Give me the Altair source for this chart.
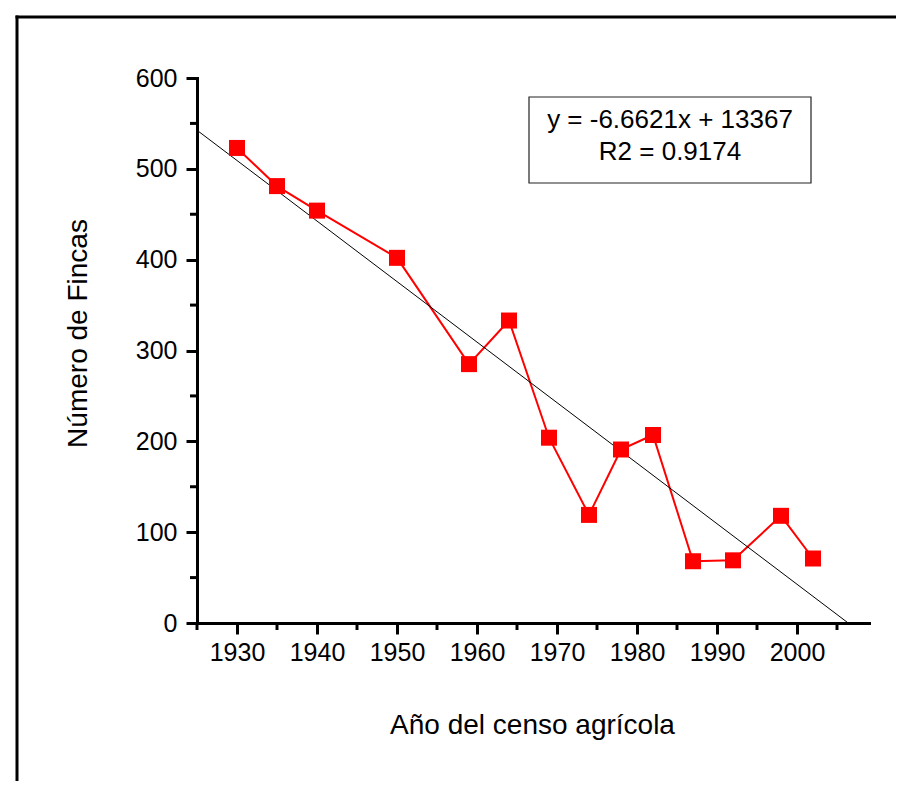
import altair as alt
import pandas as pd

# Data
years = [1930, 1935, 1940, 1950, 1959, 1964, 1969, 1974, 1978, 1982, 1987, 1992, 1998, 2002]
fincas = [523, 481, 454, 402, 285, 333, 204, 119, 191, 207, 68, 69, 118, 71]

# Trend line endpoints (y = -6.6621x + 13367, from 1925 to where it meets 0)
trend_years = [1925, 2006.4]
trend_vals = [542.5, 0]

major_x = [1930, 1940, 1950, 1960, 1970, 1980, 1990, 2000]
minor_x = [1925, 1935, 1945, 1955, 1965, 1975, 1985, 1995, 2005]
major_y = [0, 100, 200, 300, 400, 500, 600]
minor_y = [50, 150, 250, 350, 450, 550]

eq_line1 = "y = -6.6621x + 13367"
eq_line2 = "R2 = 0.9174"

FONT = "Liberation Sans"
W, H = 672, 545

df = pd.DataFrame({"year": years, "val": fincas})
trend = pd.DataFrame({"year": trend_years, "val": trend_vals})
mx = pd.DataFrame({"year": minor_x})
my = pd.DataFrame({"val": minor_y})
one = pd.DataFrame({"a": [0]})
t1 = pd.DataFrame({"t": [eq_line1]})
t2 = pd.DataFrame({"t": [eq_line2]})

xs = alt.Scale(domain=[1925, 2009], nice=False, zero=False)
ys = alt.Scale(domain=[0, 600], nice=False)

x_axis = alt.Axis(
    values=major_x, format="d", grid=False, title="Año del censo agrícola",
    tickSize=11, tickWidth=3, tickColor="black", domainWidth=3, domainColor="black",
    labelFont=FONT, labelFontSize=25, labelColor="black", labelPadding=6,
    titleFont=FONT, titleFontSize=28, titleFontWeight="normal", titleColor="black",
    titleX=335, titleY=110, titleBaseline="alphabetic", titleAlign="center",
    domainCap="square",
)
y_axis = alt.Axis(
    values=major_y, grid=False, title="Número de Fincas",
    tickSize=11, tickWidth=3, tickColor="black", domainWidth=3, domainColor="black",
    labelFont=FONT, labelFontSize=25, labelColor="black", labelPadding=9,
    titleFont=FONT, titleFontSize=28, titleFontWeight="normal", titleColor="black",
    titleX=-111, titleY=255, titleBaseline="alphabetic", titleAlign="center", titleAngle=270,
    domainCap="square",
)

X = alt.X("year:Q", scale=xs, axis=x_axis)
Y = alt.Y("val:Q", scale=ys, axis=y_axis)

line = alt.Chart(df).mark_line(color="#ff0000", strokeWidth=2).encode(x=X, y=Y)
pts = alt.Chart(df).mark_point(shape="square", filled=True, size=256, color="#ff0000", opacity=1).encode(x=X, y=Y)
trend_line = alt.Chart(trend).mark_line(color="black", strokeWidth=1).encode(x=X, y=Y)

minor_xt = alt.Chart(mx).mark_rule(color="black", strokeWidth=3).encode(
    x=X, y=alt.value(H), y2=alt.value(H + 7))
minor_yt = alt.Chart(my).mark_rule(color="black", strokeWidth=3).encode(
    y=Y, x=alt.value(-7), x2=alt.value(0))

# outer frame: left and top edges only (right/bottom lie beyond the picture)
frame_left = alt.Chart(one).mark_rule(color="black", strokeWidth=3).encode(
    x=alt.value(-180), y=alt.value(-62.5), y2=alt.value(H + 300))
frame_top = alt.Chart(one).mark_rule(color="black", strokeWidth=3).encode(
    y=alt.value(-61), x=alt.value(-181.5), x2=alt.value(W + 300))

box = alt.Chart(one).mark_rect(fill="white", stroke="#222222", strokeWidth=1.2).encode(
    x=alt.value(332), x2=alt.value(614), y=alt.value(19), y2=alt.value(105))

txt1 = alt.Chart(t1).mark_text(font=FONT, fontSize=26, color="black", align="center",
                               baseline="alphabetic").encode(
    text="t:N", x=alt.value(473), y=alt.value(50))
txt2 = alt.Chart(t2).mark_text(font=FONT, fontSize=26, color="black", align="center",
                               baseline="alphabetic").encode(
    text="t:N", x=alt.value(473), y=alt.value(82))

chart = alt.layer(
    line, frame_left, frame_top, trend_line, pts, minor_xt, minor_yt, box, txt1, txt2
).properties(
    width=W, height=H,
    background="white",
    autosize=alt.AutoSizeParams(type="none"),
    padding={"left": 189, "top": 70, "right": 27, "bottom": 158},
).configure_view(strokeWidth=0, stroke=None)

chart.save("out.html", embed_options={"renderer": "svg", "actions": False})
